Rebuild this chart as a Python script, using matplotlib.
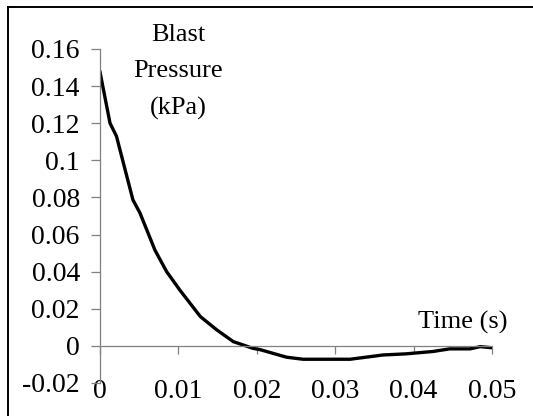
import matplotlib
matplotlib.use('Agg')
import matplotlib.pyplot as plt
from matplotlib.lines import Line2D

# blast pressure curve
time_s = [0.0, 0.00128, 0.0021, 0.0032, 0.0042, 0.0051, 0.007, 0.0085, 0.0102,
          0.0128, 0.0149, 0.017, 0.0195, 0.0204, 0.0238, 0.0259, 0.0319, 0.0361,
          0.039, 0.0425, 0.0446, 0.0472, 0.0485, 0.05]
pressure_kpa = [0.1476, 0.120, 0.113, 0.095, 0.0787, 0.0716, 0.0517, 0.040, 0.030,
                0.0158, 0.0086, 0.0023, -0.0013, -0.002, -0.0061, -0.0072, -0.0072,
                -0.0049, -0.0043, -0.003, -0.0016, -0.0016, -0.0004, -0.001]

xticks = [0, 0.01, 0.02, 0.03, 0.04, 0.05]
yticks = [-0.02, 0, 0.02, 0.04, 0.06, 0.08, 0.1, 0.12, 0.14, 0.16]

plt.rcParams['font.family'] = ['Liberation Serif', 'DejaVu Serif']
plt.rcParams['axes.unicode_minus'] = False
fs = 19
tick_fs = 20

fig = plt.figure(figsize=(5.33, 4.16), dpi=100)
ax = fig.add_axes([100/533, 33/416, 392/533, 334/416])

ax.plot(time_s, pressure_kpa, color='black', lw=2.4, solid_joinstyle='miter')

ax.set_xlim(0, 0.05)
ax.set_ylim(-0.02, 0.16)
ax.set_xticks(xticks)
ax.set_yticks(yticks)
fmt = matplotlib.ticker.FuncFormatter(lambda v, p: '{:g}'.format(round(v, 4)))
ax.xaxis.set_major_formatter(fmt)
ax.yaxis.set_major_formatter(fmt)

for s in ['top', 'right']:
    ax.spines[s].set_visible(False)
ax.spines['bottom'].set_position(('data', 0))
ax.spines['left'].set_position(('data', 0))
for s in ['bottom', 'left']:
    ax.spines[s].set_color('#808080')
    ax.spines[s].set_linewidth(0.9)

ax.tick_params(axis='y', direction='out', length=6.5, width=0.9, color='#808080',
               labelsize=tick_fs, pad=8)
ax.tick_params(axis='x', direction='out', length=6, width=0.9, color='#808080',
               labelsize=tick_fs, pad=18)
ax.patch.set_visible(False)

fig.text(178/533, 1 - 72/416, 'Blast\nPressure\n(kPa)', ha='center', va='center',
         fontsize=fs, linespacing=1.85)
fig.text(463/533, 1 - 322/416, 'Time (s)', ha='center', va='center', fontsize=fs)

# chart border (only left and top visible in the crop)
fig.add_artist(Line2D([7.5/533, 7.5/533], [0, 1 - 7/416], transform=fig.transFigure,
                      color='black', lw=1.4))
fig.add_artist(Line2D([7.5/533, 1], [1 - 7/416, 1 - 7/416], transform=fig.transFigure,
                      color='black', lw=1.4))

fig.savefig('out.png', dpi=100)
